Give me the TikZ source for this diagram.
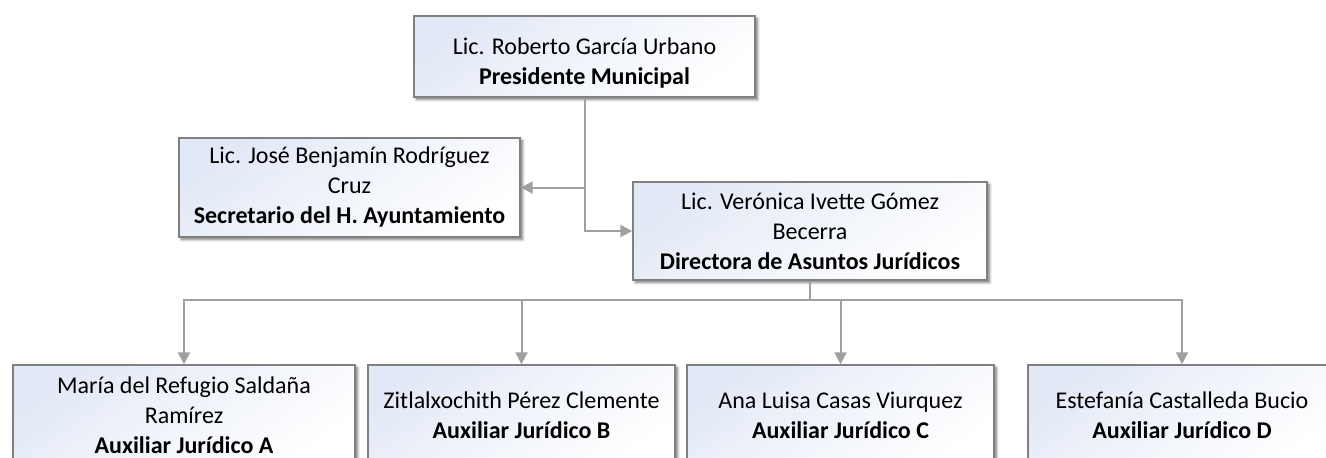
\documentclass[tikz,border=0pt]{standalone}
\usepackage{fontspec}
\setmainfont{Carlito}
\usetikzlibrary{arrows.meta,shadows.blur}
\definecolor{boxline}{RGB}{128,128,128}
\definecolor{conline}{RGB}{160,160,160}
\definecolor{boxtint}{RGB}{226,233,246}
\tikzset{
  orgbox/.style={draw=boxline, line width=1.1pt, rectangle, align=center,
    top color=boxtint, bottom color=white, shading angle=35,
    blur shadow={shadow xshift=1.8pt, shadow yshift=-1.8pt, shadow blur steps=6, shadow blur radius=2pt, shadow opacity=55},
    font=\fontsize{18}{22.5}\selectfont, inner sep=0pt},
  orgtext/.style={align=center, inner sep=0pt, font=\fontsize{18}{22.5}\selectfont},
  conn/.style={draw=conline, line width=1.5pt, -{Triangle[length=9pt,width=9pt]}},
  plain/.style={draw=conline, line width=1.5pt}
}
\begin{document}
\begin{tikzpicture}[x=0.75pt,y=-0.75pt]
\useasboundingbox (0,0) rectangle (1326,457);
\clip (0,0) rectangle (1326,457);
\node[orgbox, minimum width=341*0.75pt, minimum height=81*0.75pt] (top) at (584.5,56.5) {};
\node[orgtext] (toptext) at (584.5,63) {Lic. Roberto García Urbano\\\textbf{Presidente Municipal}};
\node[orgbox, minimum width=341*0.75pt, minimum height=99*0.75pt] (sec) at (349.5,187.5)
  {Lic. José Benjamín Rodríguez\\Cruz\\\textbf{Secretario del H. Ayuntamiento}};
\node[orgbox, minimum width=354*0.75pt, minimum height=98*0.75pt] (dir) at (810,231)
  {Lic. Verónica Ivette Gómez\\Becerra\\\textbf{Directora de Asuntos Jurídicos}};
\node[orgbox, minimum width=342*0.75pt, minimum height=100*0.75pt] (a) at (184,415)
  {María del Refugio Saldaña\\Ramírez\\\textbf{Auxiliar Jurídico A}};
\node[orgbox, minimum width=307*0.75pt, minimum height=100*0.75pt] (b) at (521.5,415)
  {Zitlalxochith Pérez Clemente\\\textbf{Auxiliar Jurídico B}};
\node[orgbox, minimum width=307*0.75pt, minimum height=100*0.75pt] (c) at (840.5,415)
  {Ana Luisa Casas Viurquez\\\textbf{Auxiliar Jurídico C}};
\node[orgbox, minimum width=308*0.75pt, minimum height=100*0.75pt] (d) at (1182,415)
  {Estefanía Castalleda Bucio\\\textbf{Auxiliar Jurídico D}};
\coordinate (bus) at (810,300);
\draw[conn] (top.south) |- (sec.east);
\draw[conn] (top.south) |- (dir.west);
\draw[plain] (dir.south) -- (bus);
\draw[conn] (bus) -| (a.north);
\draw[conn] (bus) -| (b.north);
\draw[conn] (bus) -| (c.north);
\draw[conn] (bus) -| (d.north);
\end{tikzpicture}
\end{document}
